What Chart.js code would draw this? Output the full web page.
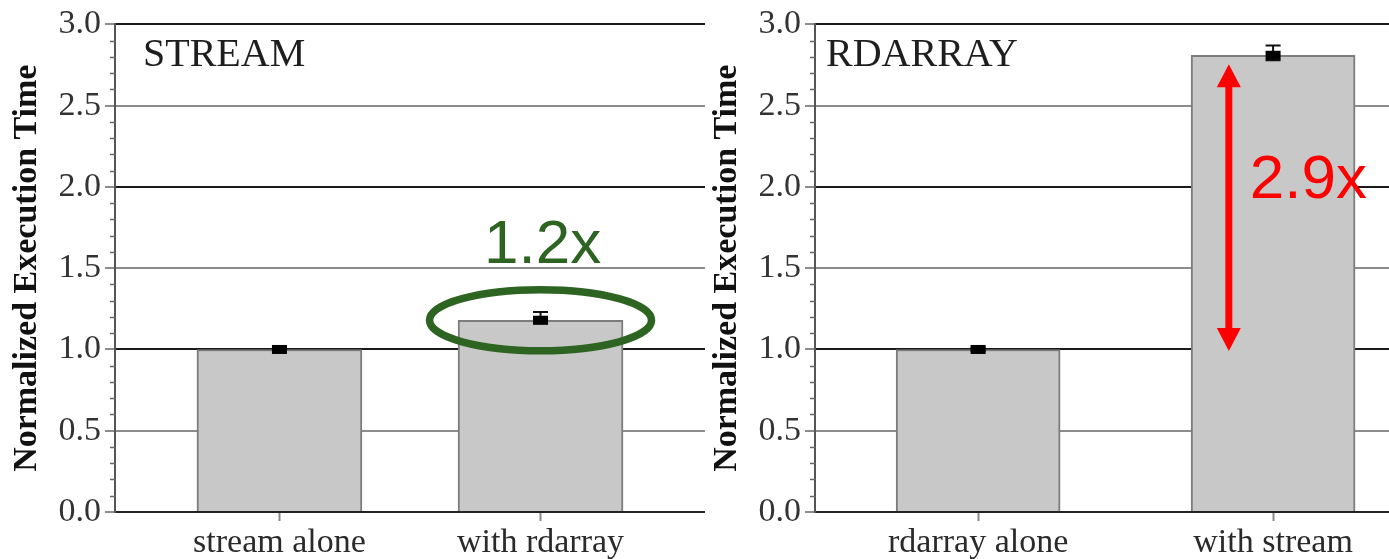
<!DOCTYPE html>
<html>
<head>
<meta charset="utf-8">
<script src="https://cdn.jsdelivr.net/npm/chart.js@4.4.1/dist/chart.umd.min.js"></script>
<style>
  html, body { margin: 0; padding: 0; background: #fff; overflow: hidden; }
  #streamChart { position: absolute; left: 0; top: 0; }
  #rdarrayChart { position: absolute; left: 705px; top: 0; }
</style>
</head>
<body>
<canvas id="streamChart" width="705" height="559"></canvas>
<canvas id="rdarrayChart" width="684" height="559"></canvas>
<script>
// ---- data ----
const streamCategories = ['stream alone', 'with rdarray'];
const streamValues = [1.00, 1.18];
const streamErrLow = [0.99, 1.16];
const streamErrHigh = [1.01, 1.23];

const rdarrayCategories = ['rdarray alone', 'with stream'];
const rdarrayValues = [1.00, 2.81];
const rdarrayErrLow = [0.99, 2.78];
const rdarrayErrHigh = [1.01, 2.87];

const yTickValues = [0.0, 0.5, 1.0, 1.5, 2.0, 2.5, 3.0];

const SERIF = "'Liberation Serif', 'Times New Roman', serif";
const SANS = "'Liberation Sans', Arial, sans-serif";

// error bars, minor ticks and the panel heading
const panelDecor = {
  id: 'panelDecor',
  afterDatasetsDraw(chart, args, opts) {
    const { ctx, chartArea, scales: { x, y } } = chart;
    const ds = chart.data.datasets[0];
    ctx.save();
    // minor ticks every 0.1 on the value axis
    ctx.strokeStyle = '#666';
    ctx.lineWidth = 1.5;
    for (let i = 1; i < 30; i++) {
      if (i % 5 === 0) continue;
      const py = Math.round(y.getPixelForValue(i / 10)) + 0.5;
      ctx.beginPath();
      ctx.moveTo(chartArea.left - 5, py);
      ctx.lineTo(chartArea.left + 1, py);
      ctx.stroke();
    }
    // error bars with a square marker at the mean
    ds.data.forEach((pt, i) => {
      const px = x.getPixelForValue(pt.x);
      const yHi = y.getPixelForValue(ds.errHigh[i]);
      const yLo = y.getPixelForValue(ds.errLow[i]);
      const yMid = y.getPixelForValue(pt.y);
      ctx.strokeStyle = '#111';
      ctx.lineWidth = 2;
      ctx.beginPath();
      ctx.moveTo(px, yHi); ctx.lineTo(px, yLo);
      ctx.moveTo(px - 7.5, yHi); ctx.lineTo(px + 7.5, yHi);
      ctx.moveTo(px - 7.5, yLo); ctx.lineTo(px + 7.5, yLo);
      ctx.stroke();
      ctx.fillStyle = '#000';
      ctx.fillRect(px - 7.5, yMid - 4.5, 15, 9);
    });
    // panel heading
    ctx.fillStyle = '#1e1e1e';
    ctx.font = '40px ' + SERIF;
    ctx.textAlign = 'left';
    ctx.textBaseline = 'alphabetic';
    ctx.fillText(opts.title, chartArea.left + opts.titleDx, chartArea.top + 42);
    ctx.restore();
  }
};

// green ellipse around the contended bar plus its slowdown label
const streamNote = {
  id: 'streamNote',
  afterDraw(chart) {
    const { ctx, scales: { x, y } } = chart;
    const cx = x.getPixelForValue(1);
    const cy = y.getPixelForValue(streamValues[1]);
    ctx.save();
    ctx.strokeStyle = '#2d6421';
    ctx.lineWidth = 7.5;
    ctx.beginPath();
    ctx.ellipse(cx, cy, 111, 30.5, 0, 0, Math.PI * 2);
    ctx.stroke();
    ctx.fillStyle = '#2d6421';
    ctx.font = '62px ' + SANS;
    ctx.textAlign = 'center';
    ctx.textBaseline = 'alphabetic';
    ctx.fillText('1.2x', cx + 2, y.getPixelForValue(1.535));
    ctx.restore();
  }
};

// red double-headed arrow from the solo level up the contended bar
const rdarrayNote = {
  id: 'rdarrayNote',
  afterDraw(chart) {
    const { ctx, scales: { x, y } } = chart;
    const ax = x.getPixelForValue(0.85);
    const yTop = y.getPixelForValue(2.755);
    const yBot = y.getPixelForValue(0.99);
    const headLen = 23, headHalf = 12;
    ctx.save();
    ctx.fillStyle = '#ff0000';
    ctx.fillRect(ax - 3.5, yTop + headLen - 1, 7, (yBot - headLen) - (yTop + headLen) + 2);
    ctx.beginPath();
    ctx.moveTo(ax, yTop);
    ctx.lineTo(ax + headHalf, yTop + headLen);
    ctx.lineTo(ax - headHalf, yTop + headLen);
    ctx.closePath();
    ctx.fill();
    ctx.beginPath();
    ctx.moveTo(ax, yBot);
    ctx.lineTo(ax + headHalf, yBot - headLen);
    ctx.lineTo(ax - headHalf, yBot - headLen);
    ctx.closePath();
    ctx.fill();
    ctx.font = '62px ' + SANS;
    ctx.textAlign = 'left';
    ctx.textBaseline = 'alphabetic';
    ctx.fillText('2.9x', ax + 21, y.getPixelForValue(1.93));
    ctx.restore();
  }
};

function makePanel(id, cfg) {
  return new Chart(document.getElementById(id), {
    type: 'bar',
    data: {
      datasets: [{
        data: cfg.values.map((v, i) => ({ x: i, y: v })),
        errLow: cfg.errLow,
        errHigh: cfg.errHigh,
        backgroundColor: '#c8c8c8',
        borderColor: '#7c7c7c',
        borderWidth: { top: 2, left: 2, right: 2, bottom: 0 },
        borderSkipped: 'start',
        barThickness: cfg.barWidth
      }]
    },
    options: {
      responsive: false,
      animation: false,
      devicePixelRatio: 1,
      layout: { padding: { top: 23, right: 0, left: 0, bottom: 0 } },
      plugins: {
        legend: { display: false },
        tooltip: { enabled: false },
        panelDecor: { title: cfg.title, titleDx: cfg.titleDx }
      },
      scales: {
        x: {
          type: 'linear',
          offset: false,
          min: cfg.xMin,
          max: cfg.xMax,
          afterBuildTicks: s => { s.ticks = cfg.categories.map((_, i) => ({ value: i })); },
          afterFit: s => { s.height = 47; },
          ticks: {
            callback: v => cfg.categories[v] ?? '',
            font: { family: SERIF, size: 34 },
            color: '#2a2a2a',
            padding: 2,
            maxRotation: 0,
            autoSkip: false
          },
          grid: { offset: false, drawOnChartArea: false, drawTicks: true, tickLength: 9, tickColor: '#888', tickWidth: 2 },
          border: { color: '#222', width: 2 }
        },
        y: {
          min: 0,
          max: 3,
          afterBuildTicks: s => { s.ticks = yTickValues.map(v => ({ value: v })); },
          afterFit: s => { s.width = cfg.yAxisWidth; },
          ticks: {
            callback: v => Number(v).toFixed(1),
            font: { family: SERIF, size: 34 },
            color: '#333',
            padding: 4
          },
          grid: {
            color: c => (c.tick.value === 0 ? 'rgba(0,0,0,0)' :
                         Number.isInteger(c.tick.value) ? '#1a1a1a' : '#8c8c8c'),
            lineWidth: 2,
            tickLength: 10,
            tickColor: '#666',
            tickWidth: 1.5
          },
          border: { color: '#555', width: 2 },
          title: {
            display: true,
            text: 'Normalized Execution Time',
            font: { family: SERIF, size: 34, weight: 'bold' },
            color: '#111',
            padding: { top: cfg.yTitlePad, bottom: 0 }
          }
        }
      }
    },
    plugins: [panelDecor, cfg.note]
  });
}

makePanel('streamChart', {
  title: 'STREAM', titleDx: 28,
  categories: streamCategories, values: streamValues,
  errLow: streamErrLow, errHigh: streamErrHigh,
  xMin: -0.63, xMax: 1.63, barWidth: 165,
  yAxisWidth: 115, yTitlePad: 7,
  note: streamNote
});

makePanel('rdarrayChart', {
  title: 'RDARRAY', titleDx: 11,
  categories: rdarrayCategories, values: rdarrayValues,
  errLow: rdarrayErrLow, errHigh: rdarrayErrHigh,
  xMin: -0.553, xMax: 1.393, barWidth: 164,
  yAxisWidth: 110, yTitlePad: 2,
  note: rdarrayNote
});
</script>
</body>
</html>
